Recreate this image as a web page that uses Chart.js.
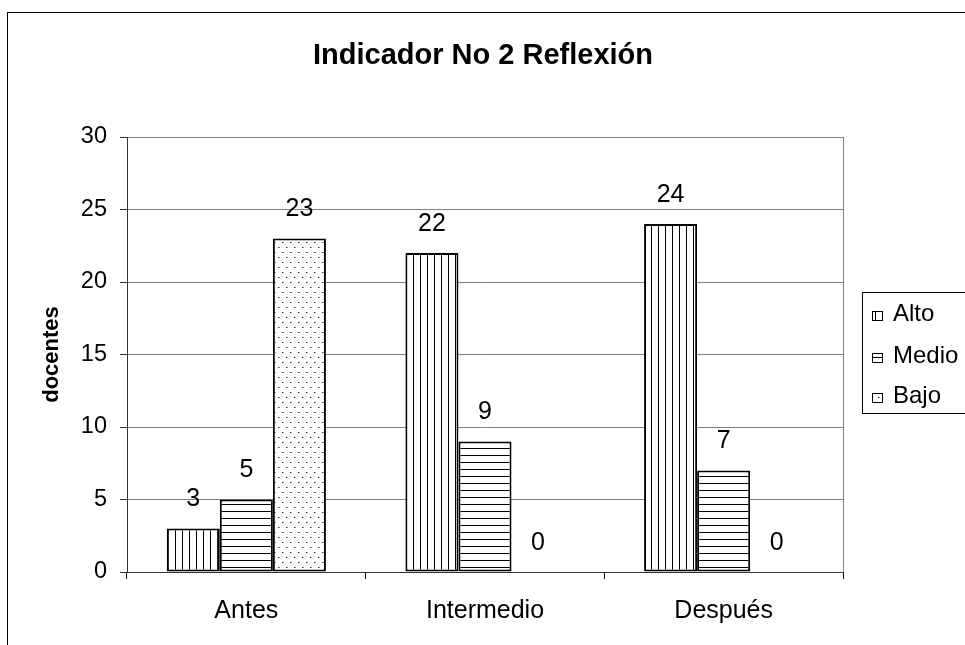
<!DOCTYPE html>
<html><head><meta charset="utf-8">
<script src="https://cdn.jsdelivr.net/npm/chart.js@4/dist/chart.umd.min.js"></script>
<style>html,body{margin:0;padding:0;background:#fff}#wrap{width:965px;height:645px}</style>
</head><body><div id="wrap"><canvas id="c" width="965" height="645"></canvas></div>
<script>
const categories = ["Antes", "Intermedio", "Después"];
const seriesNames = ["Alto", "Medio", "Bajo"];
const alto = [3, 22, 24];
const medio = [5, 9, 7];
const bajo = [23, 0, 0];
const yTicks = [0, 5, 10, 15, 20, 25, 30];
const chartTitle = "Indicador No 2 Reflexión";
const yTitle = "docentes";

const FONT = "'Liberation Sans', Arial, sans-serif";

function makePattern(kind) {
  const p = document.createElement('canvas');
  const ctx = p.getContext('2d');
  if (kind === 'v') {
    p.width = 7; p.height = 7;
    ctx.fillStyle = '#fff'; ctx.fillRect(0,0,7,7);
    ctx.fillStyle = '#000'; ctx.fillRect(0,0,1,7);
  } else if (kind === 'h') {
    p.width = 7; p.height = 7;
    ctx.fillStyle = '#fff'; ctx.fillRect(0,0,7,7);
    ctx.fillStyle = '#000'; ctx.fillRect(0,0,7,1);
  } else {
    p.width = 8; p.height = 10;
    ctx.fillStyle = '#fff'; ctx.fillRect(0,0,8,10);
    ctx.fillStyle = '#333'; ctx.fillRect(2,2,1,1); ctx.fillRect(6,7,1,1);
    ctx.fillStyle = '#999'; ctx.fillRect(3,2,1,1); ctx.fillRect(7,7,1,1);
  }
  return document.getElementById('c').getContext('2d').createPattern(p, 'repeat');
}
const patterns = [makePattern('v'), makePattern('h'), makePattern('d')];

const decor = {
  id: 'decor',
  beforeDraw(chart) {
    const ctx = chart.ctx;
    ctx.save();
    ctx.fillStyle = '#fff';
    ctx.fillRect(0, 0, chart.width, chart.height);
    ctx.strokeStyle = '#000'; ctx.lineWidth = 1;
    ctx.strokeRect(7.5, 12.5, 2000, 2000);
    ctx.restore();
  },
  afterDatasetsDraw(chart) {
    const ctx = chart.ctx;
    const a = chart.chartArea;
    ctx.save();
    // right plot border
    ctx.strokeStyle = '#808080'; ctx.lineWidth = 1;
    ctx.beginPath(); ctx.moveTo(Math.round(a.right) + 0.5, a.top); ctx.lineTo(Math.round(a.right) + 0.5, a.bottom); ctx.stroke();
    // data labels
    ctx.fillStyle = '#000';
    ctx.font = '25px ' + FONT;
    ctx.textAlign = 'center'; ctx.textBaseline = 'middle';
    chart.data.datasets.forEach((ds, i) => {
      const meta = chart.getDatasetMeta(i);
      meta.data.forEach((bar, j) => {
        ctx.fillText(String(ds.data[j]), bar.x, bar.y - 29);
      });
    });
    // title
    ctx.textBaseline = 'alphabetic';
    ctx.font = 'bold 29px ' + FONT;
    ctx.fillText(chartTitle, 483, 64);
    // y title
    ctx.save();
    ctx.translate(58, (a.top + a.bottom) / 2);
    ctx.rotate(-Math.PI / 2);
    ctx.font = 'bold 22px ' + FONT;
    ctx.fillText(yTitle, 0, 0);
    ctx.restore();
    // legend
    ctx.strokeStyle = '#000'; ctx.lineWidth = 1;
    ctx.strokeRect(862.5, 292.5, 200, 121);
    ctx.textAlign = 'left';
    ctx.font = '24px ' + FONT;
    const ys = [321, 363, 403];
    chart.data.datasets.forEach((ds, i) => {
      const top = ys[i] - 10;
      ctx.fillStyle = patterns[i];
      ctx.fillRect(872, top, 11, 10);
      ctx.strokeStyle = '#000';
      ctx.lineWidth = 1;
      ctx.strokeRect(872.5, top + 0.5, 10, 9);
      ctx.fillStyle = '#000';
      ctx.fillText(ds.label, 893, ys[i]);
    });
    ctx.restore();
  }
};

new Chart(document.getElementById('c'), {
  type: 'bar',
  data: {
    labels: categories,
    datasets: [alto, medio, bajo].map((d, i) => ({
      label: seriesNames[i],
      data: d,
      backgroundColor: patterns[i],
      borderColor: '#000',
      borderWidth: 2,
      borderSkipped: false,
      categoryPercentage: 0.667,
      barPercentage: 1.0
    }))
  },
  options: {
    responsive: false,
    animation: false,
    events: [],
    layout: { padding: { left: 0, top: 137, right: 122, bottom: 0 } },
    plugins: { legend: { display: false }, title: { display: false }, tooltip: { enabled: false } },
    scales: {
      x: {
        grid: { display: true, drawOnChartArea: false, drawTicks: true, tickLength: 7, color: '#000', offset: true },
        border: { display: true, color: '#333', width: 1 },
        ticks: { color: '#000', font: { family: FONT, size: 25 }, padding: 17, maxRotation: 0 },
        afterFit(s) { s.height = 73; }
      },
      y: {
        min: 0, max: 30,
        afterBuildTicks(s) { s.ticks = yTicks.map(v => ({ value: v })); },
        grid: { color: '#808080', tickColor: '#333', tickLength: 7, lineWidth: 1 },
        border: { display: true, color: '#333', width: 1 },
        ticks: { color: '#000', font: { family: FONT, size: 23.5 }, padding: 13 },
        afterFit(s) { s.width = 127; }
      }
    }
  },
  plugins: [decor]
});
</script>
</body></html>
